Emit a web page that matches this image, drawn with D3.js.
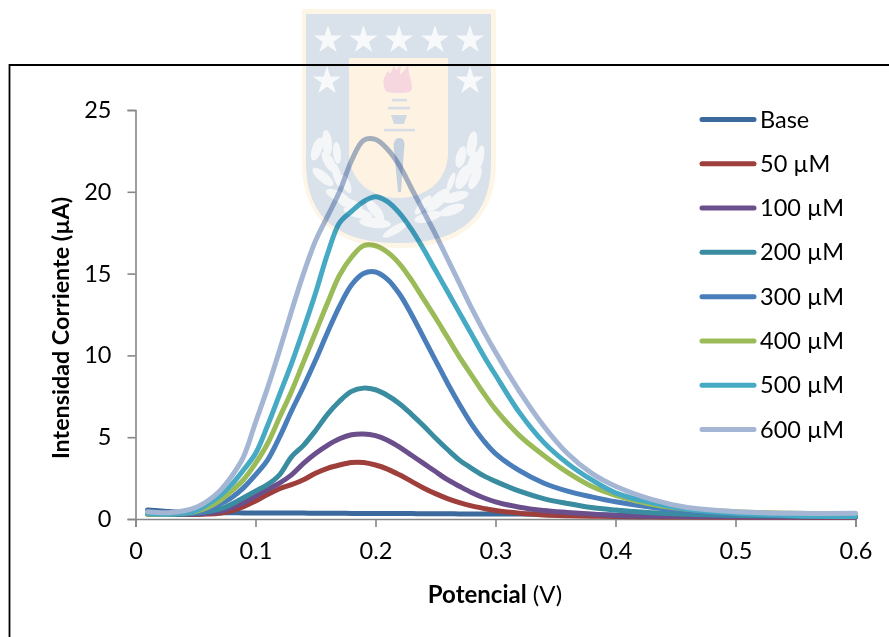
<!DOCTYPE html>
<html>
<head>
<meta charset="utf-8">
<script src="https://cdn.jsdelivr.net/npm/d3@7"></script>
<style>
html,body{margin:0;padding:0;background:#fff}
svg{display:block}
text{font-family:Lato,"Open Sans",sans-serif;fill:#000}
</style>
</head>
<body>
<div id="chart"></div>
<script>
const potentials = [0.01,0.03,0.05,0.06,0.07,0.08,0.09,0.10,0.11,0.12,0.13,0.14,0.15,0.16,0.17,0.18,0.19,0.20,0.21,0.22,0.23,0.24,0.25,0.26,0.27,0.28,0.29,0.30,0.32,0.34,0.36,0.38,0.40,0.43,0.46,0.50,0.55,0.60];
const base  = [0.55,0.45,0.40,0.39,0.38,0.38,0.37,0.37,0.37,0.36,0.36,0.36,0.35,0.35,0.35,0.34,0.34,0.33,0.33,0.33,0.33,0.32,0.32,0.32,0.31,0.31,0.31,0.30,0.30,0.29,0.28,0.27,0.25,0.23,0.21,0.18,0.16,0.15];
const um50  = [0.30,0.28,0.28,0.30,0.35,0.50,0.75,1.10,1.50,1.85,2.10,2.40,2.80,3.10,3.30,3.45,3.45,3.30,3.05,2.70,2.30,1.90,1.55,1.25,1.00,0.80,0.65,0.52,0.35,0.25,0.20,0.17,0.15,0.13,0.12,0.11,0.10,0.10];
const um100 = [0.30,0.28,0.30,0.35,0.45,0.70,1.00,1.40,1.80,2.20,2.70,3.40,4.00,4.50,4.90,5.15,5.20,5.10,4.82,4.40,3.90,3.40,2.90,2.40,2.00,1.62,1.30,1.05,0.72,0.52,0.40,0.30,0.22,0.17,0.15,0.13,0.12,0.12];
const um200 = [0.30,0.30,0.35,0.45,0.60,0.90,1.30,1.70,2.10,2.70,3.80,4.50,5.40,6.40,7.20,7.80,8.00,7.90,7.55,7.05,6.40,5.70,4.95,4.25,3.60,3.10,2.65,2.30,1.70,1.25,0.95,0.70,0.55,0.38,0.29,0.22,0.18,0.15];
const um300 = [0.30,0.30,0.40,0.55,0.90,1.30,1.90,2.70,3.60,5.00,6.60,8.10,9.70,11.40,13.00,14.30,15.00,15.10,14.65,13.75,12.50,11.10,9.70,8.30,7.00,5.80,4.80,4.00,2.95,2.20,1.70,1.35,1.05,0.72,0.50,0.32,0.20,0.15];
const um400 = [0.30,0.30,0.45,0.70,1.10,1.70,2.40,3.40,4.60,6.20,7.80,9.60,11.40,13.20,14.90,16.00,16.70,16.70,16.30,15.60,14.60,13.45,12.30,11.10,9.90,8.80,7.70,6.70,5.10,3.90,2.85,2.00,1.45,0.90,0.60,0.45,0.35,0.30];
const um500 = [0.35,0.30,0.50,0.90,1.40,2.10,3.00,4.00,5.70,7.60,9.50,11.60,13.80,16.20,18.10,18.80,19.40,19.70,19.40,18.70,17.70,16.50,15.20,13.90,12.60,11.30,10.00,8.80,6.50,4.70,3.40,2.40,1.60,1.00,0.60,0.35,0.20,0.15];
const um600 = [0.45,0.40,0.70,1.10,1.70,2.60,3.80,5.90,8.00,10.30,12.70,15.00,17.00,18.50,20.00,21.90,23.15,23.20,22.60,21.60,20.20,18.80,17.40,15.90,14.40,12.90,11.50,10.20,7.80,5.70,4.00,2.80,2.00,1.20,0.70,0.45,0.35,0.35];
const seriesNames = ["Base","50 µM","100 µM","200 µM","300 µM","400 µM","500 µM","600 µM"];
const seriesValues = [base,um50,um100,um200,um300,um400,um500,um600];
const seriesColors = ["#3D6A9D","#9E3F3B","#6A4F8C","#3A8CA0","#4A7EBB","#9BBB59","#46AAC5","#A5B6D4"];
const xTicks = [0,0.1,0.2,0.3,0.4,0.5,0.6];
const yTicks = [0,5,10,15,20,25];

const W = 889, H = 637;
const svg = d3.select("#chart").append("svg").attr("width",W).attr("height",H);

const x = d3.scaleLinear().domain([0,0.6]).range([135.5,855.5]);
const y = d3.scaleLinear().domain([0,25]).range([519,110]);

// chart frame (clipped by the page on the right and bottom)
svg.append("path").attr("d",`M9.5,${H+2}V65H${W+2}`).attr("fill","none").attr("stroke","#000").attr("stroke-width",1.8);

// axes
const gx = svg.append("g").attr("transform","translate(0,519)")
  .call(d3.axisBottom(x).tickValues(xTicks).tickFormat(d=>d===0?"0":d3.format(".1f")(d)).tickSize(8).tickPadding(15));
const gy = svg.append("g").attr("transform","translate(135.5,0)")
  .call(d3.axisLeft(y).tickValues(yTicks).tickFormat(d3.format("d")).tickSize(8).tickPadding(16));
[gx,gy].forEach(g=>{
  g.selectAll("path").attr("stroke","#868686").attr("stroke-width",1.6);
  g.selectAll("line").attr("stroke","#868686").attr("stroke-width",1.6);
  g.selectAll("text").attr("font-size",23.5).style("font-family","Lato,sans-serif");
  g.attr("font-family",null);
});

// lines
const line = d3.line().x((d,i)=>x(potentials[i])).y(d=>y(d)).curve(d3.curveCatmullRom.alpha(0.5));
svg.append("g").selectAll("path").data(seriesValues).join("path")
  .attr("d",line).attr("fill","none")
  .attr("stroke",(d,i)=>seriesColors[i]).attr("stroke-width",5)
  .attr("stroke-linecap","round").attr("stroke-linejoin","round");

// legend
const legendRow = d3.scalePoint().domain(seriesNames).range([119.5,429.5]);
const lg = svg.append("g").selectAll("g").data(seriesNames).join("g")
  .attr("transform",d=>`translate(0,${legendRow(d)})`);
lg.append("line").attr("x1",702).attr("x2",754).attr("y1",0).attr("y2",0)
  .attr("stroke",(d,i)=>seriesColors[i]).attr("stroke-width",5).attr("stroke-linecap","round");
lg.append("text").attr("x",760).attr("y",8).attr("font-size",23.5).text(d=>d);

// axis titles
svg.append("text").attr("transform","translate(69,328) rotate(-90)").attr("text-anchor","middle")
  .attr("font-size",23.3).attr("font-weight",700).text("Intensidad Corriente (µA)");
const xt = svg.append("text").attr("x",495).attr("y",603).attr("text-anchor","middle").attr("font-size",24);
xt.append("tspan").attr("font-weight",700).text("Potencial");
xt.append("tspan").text(" (V)");

// watermark crest, blended over the chart like a scanned page background
const soft = svg.append("defs").append("filter").attr("id","wmBlur");
soft.append("feGaussianBlur").attr("stdDeviation",0.7);
const wm = svg.append("g").style("mix-blend-mode","multiply").attr("filter","url(#wmBlur)");
const shield = (l,r,t,b,c)=>`M${l},${t}H${r}V${c}C${r},${(c+b)/2+20} ${(l+r)/2+55},${b} ${(l+r)/2},${b}C${(l+r)/2-55},${b} ${l},${(c+b)/2+20} ${l},${c}Z`;
wm.append("path").attr("d",shield(302,496,9,248,162)).attr("fill","#FDF5E6");
wm.append("path").attr("d",shield(306,491,14,243,162)).attr("fill","#D9E1EA");
wm.append("path").attr("d","M349,58H448V152C448,182 425,198 398.5,198C372,198 349,182 349,152Z").attr("fill","#FEF3E2");

const star = d3.symbol().type(d3.symbolStar).size(250);
[[328,39],[363.5,39],[399,39],[435,39],[470,39],[327,80],[470,80]].forEach(p=>{
  wm.append("path").attr("d",star()).attr("fill","#F8F9FB").attr("transform",`translate(${p[0]},${p[1]+1})`);
});
// torch
wm.append("path").attr("d","M385,90C381,78 386,76 388,70C389,75 391,75 394,64C395,71 397,71 401,64L400,75C404,71 405,69 409,64C407,74 412,78 412,88C412,92 408,93 400,93C392,93 386,93 385,90Z").attr("fill","#F7D7DF");
[[392,100,15],[388,108,22],[384,130,31]].forEach(b=>{
  wm.append("rect").attr("x",b[0]).attr("y",b[1]-1.2).attr("width",b[2]).attr("height",2.6).attr("fill","#D6DDE6");
});
wm.append("path").attr("d","M391,115H407L404,124H394Z").attr("fill","#CFD8E3");
wm.append("path").attr("d","M399.5,138C405,138 405,144 404,150L401,192H398L394,150C393,144 394,138 399.5,138Z").attr("fill","#C6D1E0");
// laurel leaves
const leaves = [[317,149,5,12,20],[327,143,5,13,-5],[337,153,4,11,-5],[329,162,5,12,-30],[337,175,4,12,-15],[323,177,5,13,-50],[346,184,4,10,-25],[338,196,5,13,-65],[350,204,5,13,-70],[358,213,5,15,-75],[375,210,5,13,-40],[375,223,5,16,-85],[395,230,4,14,60],
 [472,144,5,13,10],[461,157,5,11,15],[480,157,4,12,10],[473,163,5,12,20],[463,177,6,13,25],[475,178,5,12,25],[451,182,3,10,20],[455,197,5,14,75],[438,200,6,15,45],[452,210,5,13,70],[428,217,5,14,75],[423,205,4,12,40]];
leaves.forEach(l=>{
  wm.append("ellipse").attr("rx",l[2]).attr("ry",l[3]).attr("fill","#F5F6F8")
    .attr("transform",`translate(${l[0]},${l[1]}) rotate(${l[4]})`);
});
</script>
</body>
</html>
